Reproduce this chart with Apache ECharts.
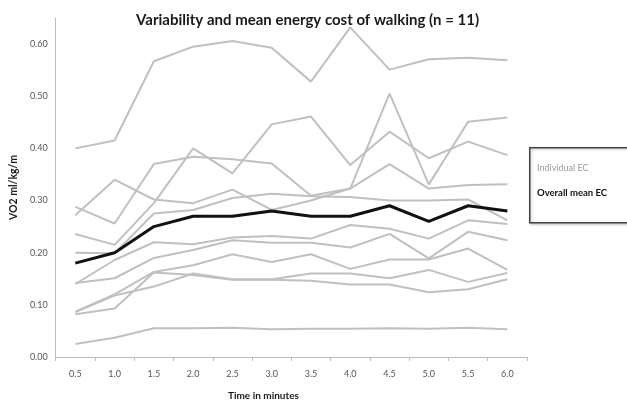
<!DOCTYPE html>
<html>
<head>
<meta charset="utf-8">
<script src="https://cdn.jsdelivr.net/npm/echarts@6/dist/echarts.min.js"></script>
<style>
html,body{margin:0;padding:0;background:#fff;}
#chart{width:627px;height:407px;}
</style>
</head>
<body>
<div id="chart"></div>
<script>
const categories = ['0.5','1.0','1.5','2.0','2.5','3.0','3.5','4.0','4.5','5.0','5.5','6.0'];
const yTicks = [0, 0.1, 0.2, 0.3, 0.4, 0.5, 0.6];

const subject1  = [0.400, 0.415, 0.567, 0.595, 0.606, 0.593, 0.528, 0.632, 0.551, 0.571, 0.574, 0.569];
const subject2  = [0.272, 0.340, 0.302, 0.295, 0.321, 0.282, 0.300, 0.323, 0.370, 0.323, 0.330, 0.331];
const subject3  = [0.288, 0.256, 0.370, 0.384, 0.379, 0.371, 0.309, 0.323, 0.505, 0.331, 0.451, 0.459];
const subject4  = [0.236, 0.215, 0.295, 0.400, 0.352, 0.446, 0.461, 0.368, 0.432, 0.381, 0.413, 0.387];
const subject5  = [0.200, 0.199, 0.275, 0.282, 0.305, 0.313, 0.308, 0.307, 0.300, 0.300, 0.302, 0.262];
const subject6  = [0.140, 0.186, 0.220, 0.216, 0.229, 0.232, 0.227, 0.253, 0.246, 0.227, 0.262, 0.255];
const subject7  = [0.142, 0.151, 0.190, 0.205, 0.224, 0.219, 0.219, 0.210, 0.236, 0.189, 0.240, 0.224];
const subject8  = [0.087, 0.120, 0.163, 0.176, 0.197, 0.182, 0.197, 0.169, 0.187, 0.187, 0.208, 0.167];
const subject9  = [0.086, 0.118, 0.135, 0.160, 0.149, 0.149, 0.160, 0.160, 0.151, 0.167, 0.144, 0.161];
const subject10 = [0.082, 0.093, 0.162, 0.157, 0.148, 0.148, 0.146, 0.139, 0.139, 0.124, 0.130, 0.149];
const subject11 = [0.025, 0.037, 0.055, 0.055, 0.056, 0.053, 0.054, 0.054, 0.055, 0.054, 0.056, 0.053];
const overallMean = [0.18, 0.20, 0.25, 0.27, 0.27, 0.28, 0.27, 0.27, 0.29, 0.26, 0.29, 0.28];

const individuals = [subject1, subject2, subject3, subject4, subject5, subject6,
                     subject7, subject8, subject9, subject10, subject11];

const FONT = 'Lato, "Open Sans", sans-serif';

const series = individuals.map(d => ({
  name: 'Individual EC',
  type: 'line',
  data: d,
  symbol: 'none',
  lineStyle: { color: '#c0c0c0', width: 2 },
  z: 2
}));
series.push({
  name: 'Overall mean EC',
  type: 'line',
  data: overallMean,
  symbol: 'none',
  lineStyle: { color: '#111111', width: 3 },
  z: 3
});

const chart = echarts.init(document.getElementById('chart'), null, { renderer: 'canvas' });
chart.setOption({
  animation: false,
  backgroundColor: '#ffffff',
  title: {
    text: 'Variability and mean energy cost of walking (n = 11)',
    left: 131, top: 8,
    textStyle: { fontFamily: FONT, fontSize: 15, fontWeight: 'bold', color: '#1a1a1a' }
  },
  grid: { left: 53, right: 100, top: 18, bottom: 50 },
  xAxis: {
    type: 'category',
    data: categories,
    boundaryGap: true,
    axisLine: { lineStyle: { color: '#bdbdbd', width: 1 } },
    axisTick: { show: true, length: 4, lineStyle: { color: '#bdbdbd' } },
    axisLabel: { fontFamily: FONT, fontSize: 9, color: '#555', margin: 13 },
    splitLine: { show: false }
  },
  yAxis: {
    type: 'value',
    min: 0, max: 0.65, interval: 0.1,
    name: 'VO2 ml/kg/m',
    nameLocation: 'middle',
    nameRotate: 90,
    nameGap: 35,
    nameTextStyle: { fontFamily: FONT, fontSize: 10.5, fontWeight: 'bold', color: '#1a1a1a' },
    axisLine: { show: true, lineStyle: { color: '#bdbdbd', width: 1 } },
    axisTick: { show: false },
    axisLabel: {
      fontFamily: FONT, fontSize: 9, color: '#555', margin: 8,
      formatter: v => (yTicks.some(t => Math.abs(t - v) < 1e-9) ? v.toFixed(2) : '')
    },
    splitLine: { show: false }
  },
  series: series,
  graphic: [
    {
      type: 'text', left: 228, top: 391,
      style: { text: 'Time in minutes', font: 'bold 10px ' + FONT, fill: '#1a1a1a' }
    },
    {
      type: 'rect', left: 529, top: 147,
      shape: { width: 110, height: 75 },
      style: { fill: '#ffffff', stroke: '#444', lineWidth: 1.5,
               shadowBlur: 3, shadowColor: 'rgba(0,0,0,0.25)', shadowOffsetX: 1, shadowOffsetY: 1 }
    },
    {
      type: 'text', left: 537, top: 164,
      style: { text: 'Individual EC', font: '9px ' + FONT, fill: '#9a9a9a' }
    },
    {
      type: 'text', left: 537, top: 188,
      style: { text: 'Overall mean EC', font: 'bold 9.5px ' + FONT, fill: '#111' }
    }
  ]
});
</script>
</body>
</html>
